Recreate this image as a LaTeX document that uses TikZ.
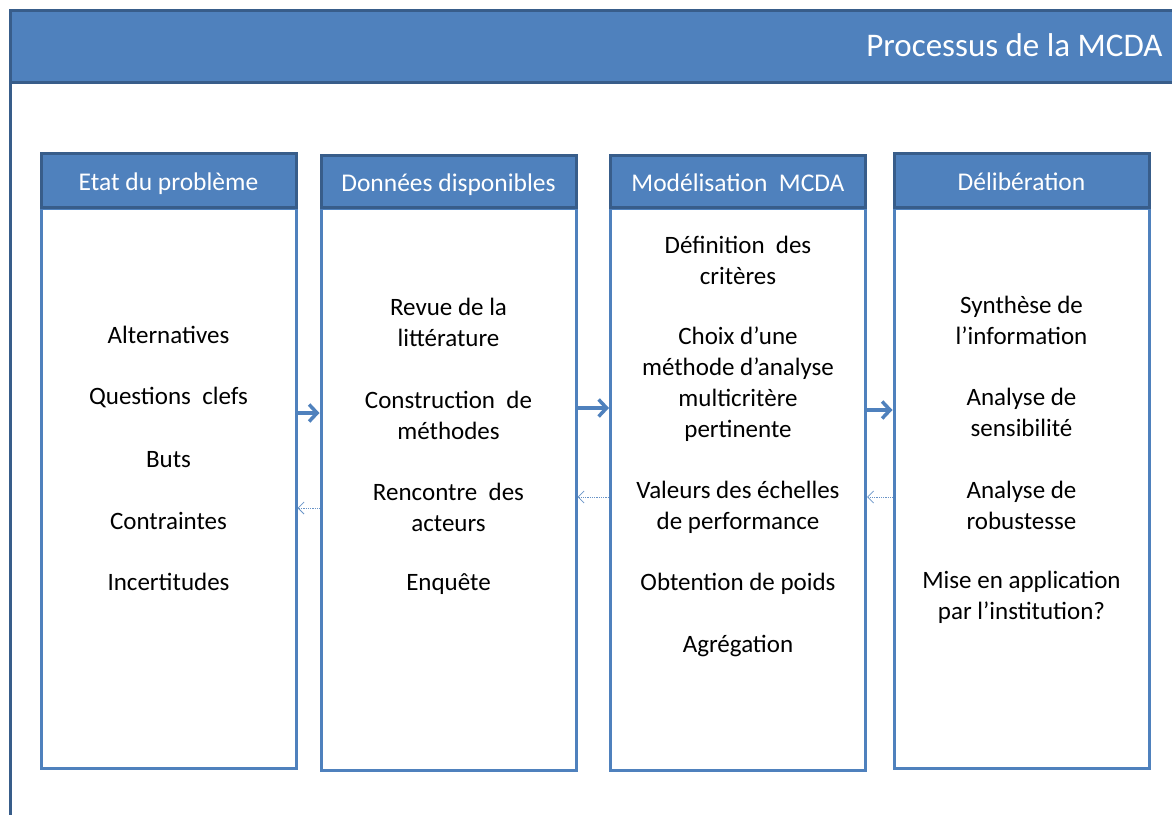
\documentclass[tikz,border=0pt]{standalone}
\usepackage{fontspec}
\setmainfont{Carlito}
\usetikzlibrary{arrows.meta, positioning}

\definecolor{bleu}{HTML}{4F81BD}
\definecolor{bleufonce}{HTML}{385D8A}

\tikzset{
  entete/.style={draw=bleufonce, fill=bleu, line width=3pt, text=white, minimum width=255pt, minimum height=54pt, inner sep=0pt, text height=21pt, text depth=0pt, font=\fontsize{25.5}{30}\selectfont},
  corps/.style={draw=bleu, fill=white, line width=3pt, minimum width=255pt, inner sep=0pt, anchor=north},
  item/.style={align=center, text=black, font=\fontsize{25}{31}\selectfont},
  aller/.style={draw=bleu, line width=3.5pt, -{Straight Barb[length=8pt, width=17pt]}},
  retour/.style={draw=bleu!85, densely dotted, line width=0.8pt, -{Straight Barb[length=6pt, width=12pt]}}
}

\begin{document}
\begin{tikzpicture}[x=1pt, y=-1pt]
\useasboundingbox (0,0) rectangle (1172,814);

%Bandeau
\draw[bleufonce, fill=bleu, line width=3pt] (10,10) rectangle (1185,82);
\draw[bleufonce, line width=3pt] (10,82) -- (10,820);
\node[anchor=east, text=white, font=\fontsize{33}{38}\selectfont] (titre) at (1166,45) {Processus de la MCDA};

%Colonnes
\node[corps, minimum height=560pt] (corps1) at (168.5,207) {};
\node[entete, minimum height=54pt] (tete1) at (168.5,180) {Etat du problème};

\node[corps, minimum height=562pt] (corps2) at (448.5,207) {};
\node[entete, minimum height=52pt] (tete2) at (448.5,181) {Données disponibles};

\node[corps, minimum height=562pt] (corps3) at (738,207) {};
\node[entete, minimum height=52pt] (tete3) at (738,181) {Modélisation~~MCDA};

\node[corps, minimum height=560pt] (corps4) at (1021.5,207) {};
\node[entete, minimum height=54pt] (tete4) at (1021.5,180) {Délibération};

%Etat du probleme
\node[item] (alt) at (168.5,335) {Alternatives};
\node[item] (quest) at (168.5,397) {Questions~ clefs};
\node[item] (buts) at (168.5,460) {Buts};
\node[item] (contr) at (168.5,521) {Contraintes};
\node[item] (incert) at (168.5,582) {Incertitudes};

%Donnees disponibles
\node[item] (revue) at (448.5,322.5) {Revue de la\\littérature};
\node[item] (constr) at (448.5,415.5) {Construction~ de\\méthodes};
\node[item] (renc) at (448.5,507.5) {Rencontre~ des\\acteurs};
\node[item] (enq) at (448.5,584) {Enquête};

%Modelisation
\node[item] (defin) at (738,260.5) {Définition~ des\\critères};
\node[item] (choix) at (738,384.5) {Choix d’une\\méthode d’analyse\\multicritère\\pertinente};
\node[item] (valeurs) at (738,507.5) {Valeurs des échelles\\de performance};
\node[item] (poids) at (738,584) {Obtention de poids};
\node[item] (agreg) at (738,646) {Agrégation};

%Deliberation
\node[item] (synth) at (1021.5,320.5) {Synthèse de\\l’information};
\node[item] (sensi) at (1021.5,412.5) {Analyse de\\sensibilité};
\node[item] (robu) at (1021.5,505.5) {Analyse de\\robustesse};
\node[item] (mise) at (1021.5,597.5) {Mise en application\\par l’institution?};

%Fleches
\draw[aller] (corps1.east |- 0,413) -- (corps2.west |- 0,413);
\draw[aller] (corps2.east |- 0,408) -- (corps3.west |- 0,408);
\draw[aller] (corps3.east |- 0,410) -- (corps4.west |- 0,410);

\draw[retour] (corps2.west |- 0,508) -- (corps1.east |- 0,508);
\draw[retour] (corps3.west |- 0,497) -- (corps2.east |- 0,497);
\draw[retour] (corps4.west |- 0,497) -- (corps3.east |- 0,497);
\end{tikzpicture}
\end{document}
